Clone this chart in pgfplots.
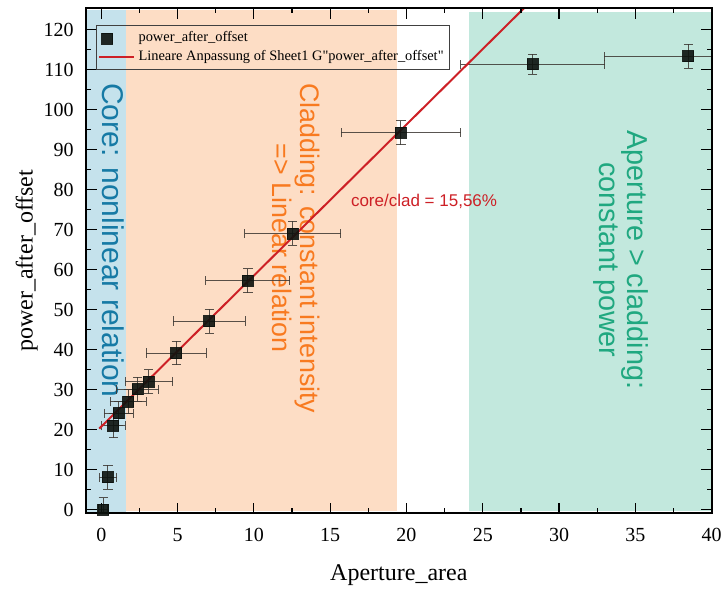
\documentclass[border=0pt]{standalone}
\usepackage{pgfplots}
\pgfplotsset{compat=1.18}
\usepackage{fontspec}
\setmainfont{Liberation Serif}
\newfontfamily\arialf{Liberation Sans}
\newfontfamily\legserif{Liberation Serif}
\definecolor{bluereg}{RGB}{197,226,236}
\definecolor{orangereg}{RGB}{253,221,197}
\definecolor{tealreg}{RGB}{194,232,221}
\definecolor{coreblue}{RGB}{22,122,165}
\definecolor{cladorange}{RGB}{248,122,32}
\definecolor{apteal}{RGB}{32,168,128}
\definecolor{fitred}{RGB}{205,32,38}
\definecolor{markblack}{RGB}{12,18,14}
\definecolor{errgray}{RGB}{60,55,50}
\pgfplotsset{leftmark legend/.style={legend image code/.code={\draw[##1] plot coordinates {(0.14cm,0cm)};}}}
\pgfplotstableread{
x     y     ex    ey
0.12  0.0   0.30  3
0.44  8.1   0.58  3
0.79  21.0  0.79  3
1.15  24.1  0.95  3
1.77  27.0  1.18  3
2.40  30.1  1.37  3
3.12  32.0  1.56  3
4.91  39.2  1.96  3
7.08  47.2  2.36  3
9.61  57.3  2.75  3
12.55 69.1  3.14  3
19.64 94.3  3.93  3
28.27 111.4 4.71  2.5
38.46 113.4 5.50  3
}\datatable
\begin{document}
\begin{tikzpicture}
\begin{axis}[
  scale only axis, width=312.8pt, height=252.5pt,
  xmin=-1, xmax=40, ymin=-0.9, ymax=125.4,
  xtick={0,5,...,40}, ytick={0,10,...,120},
  minor x tick num=1, minor y tick num=1,
  tick align=inside,
  major tick length=5.3pt, minor tick length=2.6pt,
  every tick/.style={black, line width=0.6pt},
  axis line style={line width=0.9pt},
  axis on top,
  /pgf/number format/assume math mode=true,
  tick label style={font=\fontsize{10}{12}\selectfont},
  xticklabel style={anchor=base, yshift=-14.25pt},
  yticklabel style={xshift=-2.7pt},
  xlabel={Aperture\_area}, ylabel={power\_after\_offset},
  label style={font=\fontsize{12}{14}\selectfont},
  xlabel style={at={(axis description cs:0.5,-0.1327)}, anchor=base},
  ylabel style={at={(axis description cs:-0.0946,0.5)}, anchor=center},
  legend style={at={(axis description cs:0.016,0.966)}, anchor=north west,
    draw=black!75, line width=0.4pt, fill=none,
    font=\legserif\fontsize{7.2}{8}\selectfont, inner sep=1pt, row sep=-1.5pt},
  legend cell align=left,
]
\fill[bluereg] (axis cs:-1,-0.9) rectangle (axis cs:1.65,125.0);
\fill[orangereg] (axis cs:1.65,-0.4) rectangle (axis cs:19.35,125.0);
\fill[tealreg] (axis cs:24.1,-0.4) rectangle (axis cs:40,124.4);

\node[rotate=-90, anchor=west, inner sep=0pt, align=center,
  font=\arialf\fontsize{15}{14.3}\selectfont, text=coreblue]
  at (axis cs:0.78,106.8) {Core: nonlinear relation};
\node[rotate=-90, anchor=west, inner sep=0pt, align=center,
  font=\arialf\fontsize{13.4}{14.3}\selectfont, text=cladorange]
  at (axis cs:12.77,106.8) {Cladding: constant intensity\\=> Linear relation};
\node[rotate=-90, anchor=west, inner sep=0pt, align=center,
  font=\arialf\fontsize{14.4}{14.3}\selectfont, text=apteal]
  at (axis cs:34.05,94.9) {Aperture > cladding:\\constant power};
\node[inner sep=0pt, font=\arialf\fontsize{8.5}{10}\selectfont, text=fitred]
  at (axis cs:21.15,77) {core/clad = 15,56\%};

\addplot[only marks, mark=square*, mark size=2.75pt,
  mark options={fill=markblack, draw=markblack, opacity=0.9},
  leftmark legend,
  error bars/.cd, x dir=both, x explicit, y dir=both, y explicit,
  error bar style={line width=0.5pt, errgray, opacity=0.85},
  error mark options={rotate=90, mark size=2.3pt, line width=0.5pt, errgray}]
  table[x=x, y=y, x error=ex, y error=ey] {\datatable};
\addlegendentry{power\_after\_offset}
\addplot[fitred, line width=1pt] coordinates {(-0.13,20.3) (27.8,125.8)};
\addlegendentry{Lineare Anpassung of Sheet1 G"power\_after\_offset"}
\end{axis}
\pgfresetboundingbox
\path[use as bounding box] (-43pt,-39.25pt) rectangle (317.95pt,256.65pt);
\end{tikzpicture}
\end{document}
